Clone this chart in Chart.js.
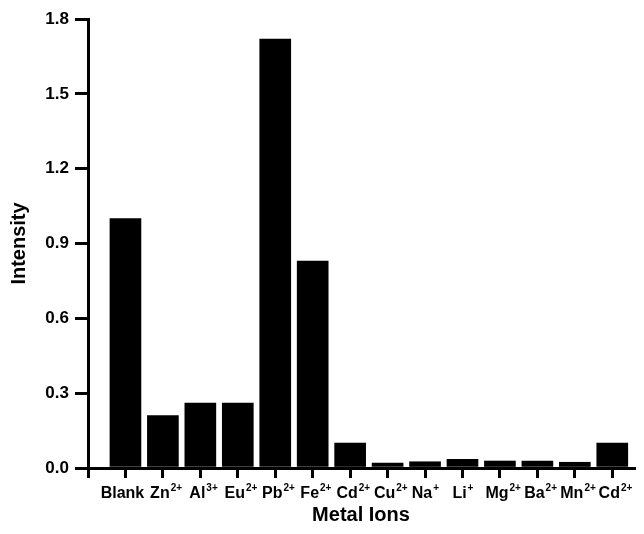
<!DOCTYPE html>
<html lang="en">
<head>
    <meta charset="UTF-8">
    <title>Metal Ions Intensity</title>
    <script src="https://cdn.jsdelivr.net/npm/chart.js"></script>
    <style>
        body {
            margin: 0;
            padding: 0;
            background-color: #ffffff;
        }
        canvas {
            display: block;
        }
    </style>
</head>
<body>
    <canvas id="ionChart" width="644" height="534"></canvas>

    <script>
        // Data
        const ionNames = ['Blank', 'Zn', 'Al', 'Eu', 'Pb', 'Fe', 'Cd', 'Cu', 'Na', 'Li', 'Mg', 'Ba', 'Mn', 'Cd'];
        const ionCharges = ['', '2+', '3+', '2+', '2+', '2+', '2+', '2+', '+', '+', '2+', '2+', '2+', '2+'];
        const intensity = [1.0, 0.21, 0.26, 0.26, 1.72, 0.83, 0.10, 0.02, 0.025, 0.035, 0.028, 0.028, 0.023, 0.10];
        const yTickValues = [0, 0.3, 0.6, 0.9, 1.2, 1.5, 1.8];

        const fontFamily = '"Liberation Sans", Arial, sans-serif';

        // Category labels with real superscript charges (Zn²⁺ etc.)
        // the base text is centred just left of the tick, the charge hangs to the right
        const ionLabelPlugin = {
            id: 'ionLabels',
            afterDraw(chart) {
                const xs = chart.scales.x;
                const c = chart.ctx;
                const baseY = xs.top + 30;
                c.save();
                c.fillStyle = '#000';
                c.textBaseline = 'alphabetic';
                c.textAlign = 'left';
                ionNames.forEach((name, i) => {
                    const cx = xs.getPixelForValue(i + 1) - 3;
                    c.font = 'bold 16px ' + fontFamily;
                    const w1 = c.measureText(name).width;
                    const x0 = cx - w1 / 2;
                    c.fillText(name, x0, baseY);
                    if (ionCharges[i]) {
                        c.font = 'bold 10px ' + fontFamily;
                        c.fillText(ionCharges[i], x0 + w1 + 1, baseY - 7);
                    }
                });
                c.restore();
            }
        };

        const ctx = document.getElementById('ionChart').getContext('2d');
        const ionChart = new Chart(ctx, {
            type: 'bar',
            data: {
                datasets: [{
                    label: 'Intensity',
                    data: intensity.map((v, i) => ({ x: i + 1, y: v })),
                    backgroundColor: '#000000',
                    borderWidth: 0,
                    barThickness: 31
                }]
            },
            options: {
                responsive: false,
                animation: false,
                layout: {
                    padding: { left: 0, right: 10, top: 19, bottom: 0 }
                },
                plugins: {
                    legend: { display: false },
                    tooltip: { enabled: false }
                },
                scales: {
                    x: {
                        type: 'linear',
                        offset: false,
                        min: 0,
                        max: 14.58,
                        afterBuildTicks: (scale) => {
                            scale.ticks = [{ value: 0 }].concat(ionNames.map((_, i) => ({ value: i + 1 })));
                        },
                        afterFit: (scale) => { scale.height = 66; },
                        border: { color: '#000', width: 3 },
                        grid: {
                            offset: false,
                            drawOnChartArea: false,
                            drawTicks: true,
                            tickLength: 10,
                            color: '#000',
                            lineWidth: 3
                        },
                        ticks: {
                            autoSkip: false,
                            maxRotation: 0,
                            callback: () => ''
                        },
                        title: {
                            display: true,
                            text: 'Metal Ions',
                            color: '#000',
                            font: { family: fontFamily, size: 20, weight: 'bold' },
                            padding: { top: 4, bottom: 7 }
                        }
                    },
                    y: {
                        min: 0,
                        max: 1.8,
                        afterBuildTicks: (scale) => {
                            scale.ticks = yTickValues.map(v => ({ value: v }));
                        },
                        afterFit: (scale) => { scale.width = 88; },
                        border: { color: '#000', width: 3 },
                        grid: {
                            drawOnChartArea: false,
                            drawTicks: true,
                            tickLength: 13,
                            color: '#000',
                            lineWidth: 3
                        },
                        ticks: {
                            padding: 6,
                            color: '#000',
                            font: { family: fontFamily, size: 17, weight: 'bold' },
                            callback: (v) => Number(v).toFixed(1)
                        },
                        title: {
                            display: true,
                            text: 'Intensity',
                            color: '#000',
                            font: { family: fontFamily, size: 20, weight: 'bold' },
                            padding: { top: 7, bottom: 4 }
                        }
                    }
                }
            },
            plugins: [ionLabelPlugin]
        });
    </script>
</body>
</html>
